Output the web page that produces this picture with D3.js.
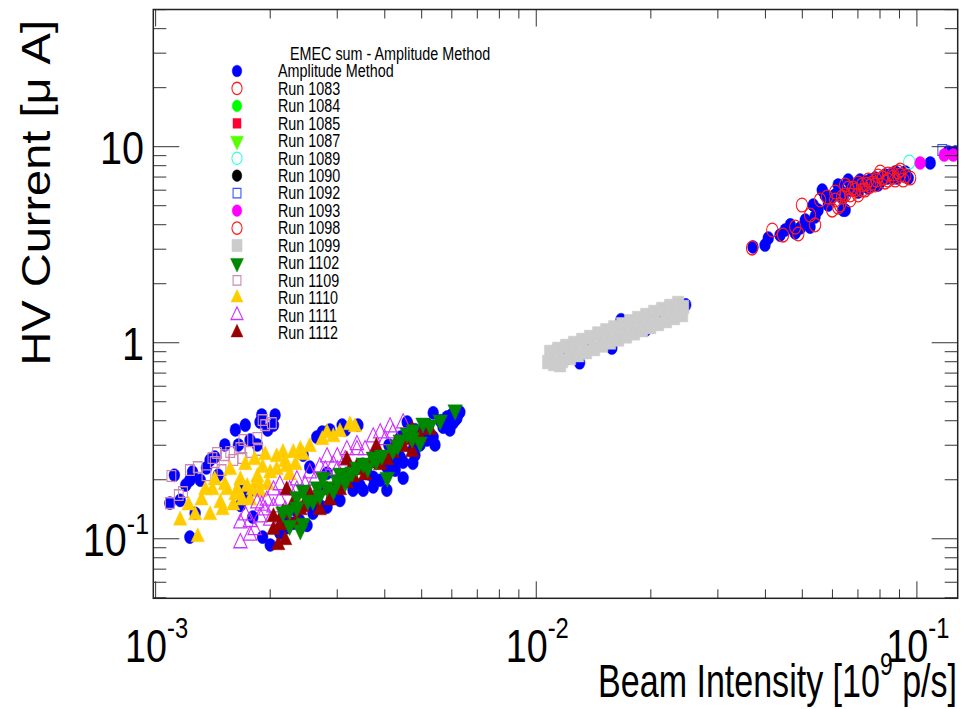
<!DOCTYPE html>
<html>
<head>
<meta charset="utf-8">
<script src="https://cdn.jsdelivr.net/npm/d3@7"></script>
<style>
	body { margin: 0; background: #fff; }
	text { font-family: "Liberation Sans", Arial, Helvetica, sans-serif; fill: #000; }
</style>
</head>
<body>
<div id="chart"></div>
<script>

//точки серий: [интенсивность пучка, ток]
var ampMethod = [
	// низкая интенсивность
	[0.00109,0.152],[0.00112,0.211],[0.00123,0.199],[0.00127,0.135],[0.00123,0.102],[0.00125,0.219],[0.00136,0.230],
	[0.00146,0.211],[0.00143,0.261],[0.00167,0.188],[0.00165,0.301],[0.00185,0.301],[0.00188,0.394],[0.00204,0.380],
	[0.00197,0.359],[0.00177,0.319],[0.00175,0.171],[0.00167,0.148],[0.00180,0.129],[0.00191,0.102],[0.00200,0.093],
	[0.00212,0.107],[0.00230,0.120],[0.00250,0.117],[0.00265,0.330],[0.00274,0.350],[0.00309,0.380],[0.00340,0.380],
	[0.00244,0.267],[0.00254,0.232],[0.00282,0.216],[0.00318,0.199],[0.00351,0.177],[0.00373,0.206],[0.00405,0.232],
	[0.00439,0.261],[0.00474,0.284],[0.00516,0.319],[0.00536,0.439],[0.00583,0.418],[0.00619,0.413],[0.00458,0.394],
	[0.00495,0.301],[0.00447,0.204],[0.00405,0.177],[0.00330,0.177],[0.00305,0.157],[0.00282,0.145],[0.00259,0.135],
	[0.00239,0.124],[0.00221,0.114],[0.00373,0.184],[0.00420,0.243],[0.00474,0.243],[0.00536,0.330],[0.00569,0.371],
	[0.00604,0.389],[0.00447,0.246],[0.00504,0.359],[0.00630,0.443],[0.00612,0.403],[0.00290,0.160],[0.00330,0.200],
	[0.00360,0.215],[0.00390,0.250],[0.00430,0.290],[0.00470,0.330],[0.00520,0.380],[0.00560,0.400],[0.00600,0.430],
	[0.00480,0.360],[0.00440,0.330],[0.00410,0.300],[0.00380,0.270],[0.00350,0.240],[0.00310,0.210],[0.00270,0.180],
	[0.00250,0.150],[0.00116,0.157],[0.00120,0.188],[0.00131,0.199],[0.00139,0.252],[0.00152,0.301],[0.00162,0.359],
	[0.00172,0.380],[0.00190,0.428],[0.00206,0.428],[0.00219,0.124],[0.00233,0.140],[0.00270,0.148],[0.00296,0.167],
	[0.00344,0.188],[0.00389,0.199],[0.00426,0.224],[0.00480,0.267],[0.00542,0.301],[0.00593,0.359],[0.00287,0.359],
	[0.00315,0.359],
	// средняя интенсивность
	[0.0243,1.50],[0.0247,1.56],[0.01385,0.951],[0.0194,1.16],[0.0167,1.31],[0.0158,0.94],[0.0130,0.79],[0.0120,0.83],
	[0.0210,1.40],
	// высокая интенсивность
	[0.0371,3.08],[0.0407,3.42],[0.0451,3.76],[0.0479,3.63],[0.0494,3.85],[0.0524,3.89],[0.0540,4.38],[0.0534,5.04],
	[0.0592,5.35],[0.0648,4.75],[0.0610,5.67],[0.0628,6.01],[0.0668,6.01],[0.0688,6.38],[0.0709,6.16],[0.0731,6.60],
	[0.0754,6.76],[0.0777,6.92],[0.0801,6.60],[0.0825,7.17],[0.0850,7.17],[0.0877,7.43],[0.0904,7.17],[0.0949,6.92],
	[0.1084,8.26],[0.1209,9.40],[0.1262,9.40],[0.0564,6.01],[0.0621,6.38],[0.0660,6.76],[0.0585,5.04],[0.0709,6.76],
	[0.0791,6.38],[0.0861,6.92],[0.0745,6.16],[0.0640,4.75],[0.0465,3.99],[0.0509,4.22],[0.0550,4.75],[0.0574,5.67],
	[0.0640,5.48],[0.0701,5.87],[0.0763,6.38],[0.0835,6.92],[0.0888,6.92],[0.0932,7.43],[0.0437,3.54],[0.0399,3.15]
];
var run1083 = [
	[0.0369,3.04],[0.0417,3.76],[0.0445,3.54],[0.0479,3.89],[0.0488,3.59],[0.0499,5.04],[0.0524,4.48],[0.0540,3.99],
	[0.0581,5.54],[0.0599,4.75],[0.0610,5.87],[0.0636,5.54],[0.0660,6.16],[0.0688,6.01],[0.0701,6.53],[0.0718,6.38],
	[0.0745,6.76],[0.0610,5.35],[0.0648,5.67],[0.0680,6.16],[0.0718,6.01],[0.0754,6.30],[0.0782,6.76],[0.0810,6.92]
];
var run1084 = [];
var run1085 = [];
var run1087 = [];
var run1089 = [[0.0955,8.35]];
var run1090 = [];
var run1092 = [[0.1166,9.62]];
var run1093 = [[0.1020,8.26],[0.1180,9.07],[0.1246,9.07]];
var run1098 = [
	[0.0763,6.53],[0.0791,7.09],[0.0815,6.92],[0.0840,7.26],[0.0866,7.00],[0.0893,7.43],[0.0932,7.09],[0.0960,6.92],
	[0.0557,5.35],[0.0628,5.04],[0.0668,5.67],[0.0731,6.01],[0.0777,6.38],[0.0825,6.60],[0.0877,6.76],[0.0648,6.38],
	[0.0801,7.43],[0.0904,7.60],[0.0840,6.76],[0.0866,7.26],[0.0904,7.17],[0.0701,5.67],[0.0736,6.45],[0.0668,5.35],
	[0.0621,4.92],[0.0921,6.76]
];
var run1099 = [
	[0.01087,0.897],[0.01141,0.929],[0.01198,0.962],[0.01257,0.996],[0.01320,1.032],[0.01385,1.069],[0.01454,1.114],
	[0.01526,1.156],[0.01602,1.197],[0.01681,1.241],[0.01764,1.287],[0.01852,1.335],[0.01944,1.384],[0.02040,1.434],
	[0.02141,1.485],[0.02247,1.539],[0.02359,1.594],
	[0.01114,0.779],[0.01169,0.807],[0.01227,0.836],[0.01288,0.865],[0.01352,0.896],[0.01419,0.929],[0.01490,0.968],
	[0.01563,1.004],[0.01641,1.040],[0.01722,1.078],[0.01807,1.118],[0.01897,1.160],[0.01992,1.202],[0.02090,1.246],
	[0.02193,1.290],[0.02302,1.337],[0.02417,1.385],[0.02432,1.521],[0.01074,0.797],[0.01155,0.769]
];
var run1102 = [
	[0.00216,0.137],[0.00244,0.120],[0.00235,0.164],[0.00244,0.177],[0.00259,0.157],[0.00266,0.184],[0.00282,0.184],
	[0.00300,0.199],[0.00305,0.216],[0.00318,0.206],[0.00338,0.232],[0.00351,0.243],[0.00373,0.261],[0.00380,0.252],
	[0.00406,0.206],[0.00420,0.284],[0.00439,0.319],[0.00458,0.346],[0.00475,0.359],[0.00495,0.311],[0.00504,0.389],
	[0.00612,0.454],[0.00275,0.206],[0.00235,0.145],[0.00225,0.140],[0.00251,0.157],[0.00270,0.167],[0.00293,0.177],
	[0.00315,0.195],[0.00328,0.219],[0.00361,0.230],[0.00393,0.267],[0.00433,0.301],[0.00472,0.327],[0.00526,0.380],
	[0.00559,0.403],[0.00240,0.111],[0.00225,0.117]
];
var run1109 = [
	[0.00109,0.152],[0.00110,0.209],[0.00118,0.173],[0.00129,0.232],[0.00136,0.211],[0.00141,0.258],[0.00145,0.274],
	[0.00157,0.277],[0.00167,0.290],[0.00170,0.319],[0.00185,0.327],[0.00186,0.284],[0.00191,0.403],[0.00202,0.389],
	[0.00143,0.246],[0.00160,0.252],[0.00169,0.258],[0.00115,0.167],[0.00123,0.224],[0.00152,0.267],[0.00177,0.277],
	[0.00194,0.380],[0.00149,0.224]
];
var run1110 = [
	[0.00129,0.102],[0.00127,0.132],[0.00139,0.132],[0.00132,0.157],[0.00141,0.177],[0.00148,0.152],[0.00154,0.177],
	[0.00164,0.177],[0.00169,0.157],[0.00174,0.184],[0.00185,0.206],[0.00191,0.230],[0.00200,0.216],[0.00208,0.261],
	[0.00216,0.274],[0.00230,0.274],[0.00244,0.267],[0.00208,0.224],[0.00221,0.232],[0.00180,0.177],[0.00282,0.346],
	[0.00293,0.330],[0.00305,0.350],[0.00324,0.380],[0.00274,0.319],[0.00160,0.148],[0.00150,0.140],[0.00167,0.199],
	[0.00186,0.192],[0.00334,0.371],[0.00143,0.199],[0.00157,0.224],[0.00172,0.238],[0.00182,0.252],[0.00194,0.267],
	[0.00219,0.246],[0.00233,0.238],[0.00177,0.157],[0.00188,0.173],[0.00197,0.188],[0.00162,0.167],[0.00135,0.177],
	[0.00122,0.148],[0.00116,0.124],[0.00152,0.188],[0.00240,0.284],[0.00254,0.294],[0.00225,0.211]
];
var run1111 = [
	[0.00167,0.120],[0.00167,0.0951],[0.00177,0.122],[0.00188,0.129],[0.00185,0.152],[0.00196,0.157],[0.00204,0.177],
	[0.00204,0.145],[0.00212,0.157],[0.00194,0.140],[0.00225,0.177],[0.00235,0.199],[0.00254,0.216],[0.00270,0.232],
	[0.00282,0.261],[0.00300,0.261],[0.00318,0.284],[0.00338,0.301],[0.00373,0.330],[0.00389,0.346],[0.00413,0.371],
	[0.00447,0.389],[0.00338,0.284],[0.00300,0.224],[0.00235,0.177],[0.00420,0.346],[0.00172,0.132],[0.00182,0.111],
	[0.00190,0.148],[0.00200,0.124],[0.00219,0.140],[0.00240,0.157],[0.00247,0.188],[0.00262,0.199],[0.00279,0.224],
	[0.00293,0.238],[0.00315,0.252],[0.00355,0.284],[0.00401,0.319],[0.00177,0.104],[0.00212,0.188]
];
var run1112 = [
	[0.00210,0.0929],[0.00204,0.111],[0.00204,0.129],[0.00216,0.135],[0.00225,0.120],[0.00235,0.124],[0.00230,0.152],
	[0.00221,0.177],[0.00244,0.145],[0.00259,0.157],[0.00270,0.140],[0.00282,0.177],[0.00305,0.177],[0.00318,0.192],
	[0.00330,0.206],[0.00344,0.224],[0.00366,0.243],[0.00318,0.252],[0.00338,0.232],[0.00380,0.294],[0.00406,0.252],
	[0.00420,0.274],[0.00447,0.294],[0.00472,0.359],[0.00495,0.330],[0.00526,0.359],[0.00472,0.277],[0.00439,0.311],
	[0.00212,0.117],[0.00240,0.140],[0.00254,0.167],[0.00287,0.157],[0.00296,0.188],[0.00355,0.211],[0.00389,0.238],
	[0.00426,0.301],[0.00466,0.319],[0.00219,0.0985],[0.00324,0.224]
];

//легенда
var legendTitle = 'EMEC sum - Amplitude Method';
var seriesNames = ['Amplitude Method','Run 1083','Run 1084','Run 1085','Run 1087','Run 1089','Run 1090','Run 1092',
	'Run 1093','Run 1098','Run 1099','Run 1102','Run 1109','Run 1110','Run 1111','Run 1112'];
var seriesPoints = [ampMethod,run1083,run1084,run1085,run1087,run1089,run1090,run1092,
	run1093,run1098,run1099,run1102,run1109,run1110,run1111,run1112];
var seriesColors = ['#0000ff','#ff1a1a','#00ff00','#ff0033','#55ff00','#33ffdd','#000000','#3355ff',
	'#ff00ff','#ff1a1a','#cccccc','#008800','#cc88b0','#ffcc00','#cc33ff','#990000'];
var seriesShapes = ['circle','ocircle','circle','square','tdown','ocircle','circle','osquare',
	'circle','ocircle','bigsquare','tdown','osquare','tup','otup','tup'];
//порядок отрисовки (зелёные треугольники поверх)
var drawOrder = [0,1,2,3,4,5,6,7,8,9,10,12,13,14,15,11];

//подписи осей
var xTitle = 'Beam Intensity [10';
var xTitleSup = '9';
var xTitleEnd = ' p/s]';
var yTitle = 'HV Current [\u03bc A]';
var xDomain = [0.000986, 0.128];
var yDomain = [0.0497, 50.1];
var xLabelValues = [0.001, 0.01, 0.1];
var xLabelExp = ['-3', '-2', '-1'];
var yLabelValues = [0.1, 1, 10];
var yLabelBase = ['10', '1', '10'];
var yLabelExp = ['-1', '', ''];

/*---------------------------------------*/
var svgWidth = 961;
var svgHeight = 709;
var frame = {left: 153.3, right: 957.7, top: 9.5, bottom: 598.3};
var sx = 0.82; //горизонтальное сжатие картинки

var svg = d3.select('#chart')
	.append('svg')
	.attr('width', svgWidth)
	.attr('height', svgHeight)
;

var x = d3.scaleLog().domain(xDomain).range([frame.left, frame.right]);
var y = d3.scaleLog().domain(yDomain).range([frame.bottom, frame.top]);

svg.append('clipPath')
	.attr('id', 'clip')
	.append('rect')
	.attr('x', frame.left)
	.attr('y', frame.top)
	.attr('width', frame.right - frame.left)
	.attr('height', frame.bottom - frame.top)
;

//маркеры
function markerDef(shape) {
	var m = {type: d3.symbolCircle, size: 135, filled: true, rot: 0};
	if (shape == 'ocircle') { m.size = 150; m.filled = false; }
	if (shape == 'square') { m.type = d3.symbolSquare; m.size = 120; }
	if (shape == 'bigsquare') { m.type = d3.symbolSquare; m.size = 190; }
	if (shape == 'osquare') { m.type = d3.symbolSquare; m.size = 115; m.filled = false; }
	if (shape == 'tup') { m.type = d3.symbolTriangle; m.size = 115; }
	if (shape == 'otup') { m.type = d3.symbolTriangle; m.size = 115; m.filled = false; }
	if (shape == 'tdown') { m.type = d3.symbolTriangle; m.size = 135; m.rot = 180; }
	return m;
}

function drawMarker(g, shape, color, px, py, k) {
	var m = markerDef(shape);
	g.append('path')
		.attr('d', d3.symbol().type(m.type).size(m.size * k)())
		.attr('transform', 'translate(' + px + ',' + py + ') scale(' + sx + ',1) rotate(' + m.rot + ')')
		.style('fill', m.filled ? color : 'none')
		.style('stroke', color)
		.style('stroke-width', m.filled ? 0.5 : 1.3)
	;
}

//точки
var plot = svg.append('g').attr('clip-path', 'url(#clip)');
drawOrder.forEach(function(s) {
	var gs = plot.append('g').attr('class', 'series');
	for (var i = 0; i < seriesPoints[s].length; i++) {
		var p = seriesPoints[s][i];
		drawMarker(gs, seriesShapes[s], seriesColors[s], x(p[0]), y(p[1]), 1);
	}
});

//рамка и деления
var axes = svg.append('g').style('stroke', '#333').style('stroke-width', 1);

function logTicks(domain, maxV) {
	var res = [];
	for (var e = -4; e <= 2; e++) {
		for (var k = 1; k <= 9; k++) {
			var v = k * Math.pow(10, e);
			if (v >= domain[0] && v <= domain[1] && v <= maxV) res.push({v: v, major: k == 1});
		}
	}
	return res;
}

logTicks(xDomain, 0.1001).forEach(function(t) {
	var len = t.major ? 17 : 9;
	var px = x(t.v);
	axes.append('line').attr('x1', px).attr('x2', px).attr('y1', frame.bottom).attr('y2', frame.bottom - len);
	axes.append('line').attr('x1', px).attr('x2', px).attr('y1', frame.top).attr('y2', frame.top + len);
});

logTicks(yDomain, 100).forEach(function(t) {
	var len = t.major ? 26 : 13;
	var py = y(t.v);
	axes.append('line').attr('x1', frame.left).attr('x2', frame.left + len).attr('y1', py).attr('y2', py);
	axes.append('line').attr('x1', frame.right).attr('x2', frame.right - len).attr('y1', py).attr('y2', py);
});

svg.append('rect')
	.attr('x', frame.left)
	.attr('y', frame.top)
	.attr('width', frame.right - frame.left)
	.attr('height', frame.bottom - frame.top)
	.style('fill', 'none')
	.style('stroke', '#222')
	.style('stroke-width', 1.5)
;

//текст со сжатием по горизонтали
function addText(px, py, size, anchor, scaleX) {
	return svg.append('text')
		.attr('transform', 'translate(' + px + ',' + py + ') scale(' + scaleX + ',1)')
		.style('font-size', size + 'px')
		.style('text-anchor', anchor)
	;
}

//подписи делений X
xLabelValues.forEach(function(v, i) {
	var t = addText(x(v) + 1, 662, 46, 'middle', 0.82);
	t.append('tspan').text('10');
	t.append('tspan').attr('dy', -24).style('font-size', '29px').text(xLabelExp[i]);
});

//подписи делений Y
yLabelValues.forEach(function(v, i) {
	var hasExp = yLabelExp[i] != '';
	var t = addText(hasExp ? 149 : 144, y(v) + 17, 46, 'end', 0.86);
	t.append('tspan').text(yLabelBase[i]);
	if (hasExp) t.append('tspan').attr('dy', -22).style('font-size', '29px').text(yLabelExp[i]);
});

//название оси X
var xt = addText(957, 697, 46, 'end', 0.74);
xt.append('tspan').text(xTitle);
xt.append('tspan').attr('dy', -22).style('font-size', '31px').text(xTitleSup);
xt.append('tspan').attr('dy', 22).text(xTitleEnd);

//название оси Y
svg.append('text')
	.attr('transform', 'translate(50,20) scale(0.88,1) rotate(-90)')
	.style('font-size', '47px')
	.style('text-anchor', 'end')
	.text(yTitle)
;

//легенда
addText(290, 59.5, 17.5, 'start', sx).text(legendTitle);
var legend = svg.append('g');
for (var s = 0; s < seriesNames.length; s++) {
	var ry = 71 + 17.45 * s;
	drawMarker(legend, seriesShapes[s], seriesColors[s], 237, ry, 0.8);
	addText(278, ry + 6.3, 17.5, 'start', sx).text(seriesNames[s]);
}

</script>
</body>
</html>
